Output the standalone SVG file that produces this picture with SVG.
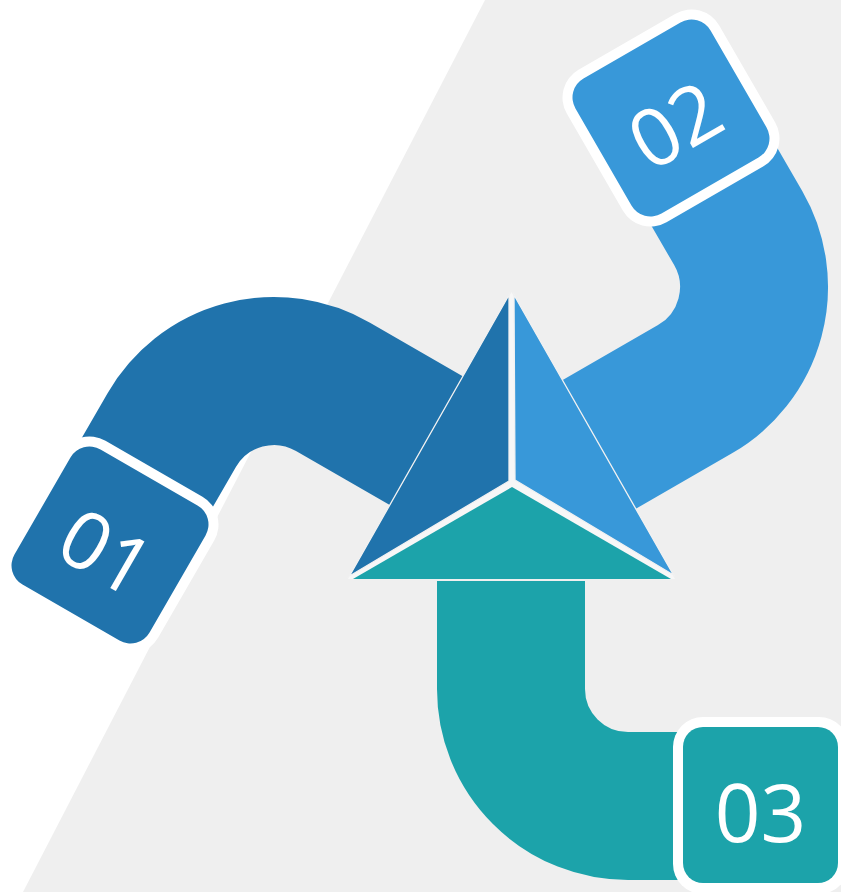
<svg xmlns="http://www.w3.org/2000/svg" width="841" height="892" viewBox="0 0 841 892">
  <defs>
    <style>
      .pipe { fill: none; stroke-width: 148; stroke-linecap: butt; stroke-linejoin: round; }
      .c1 { fill: #2073ac; }
      .c2 { fill: #3898d9; }
      .c3 { fill: #1ca3aa; }
      .s1 { stroke: #2073ac; }
      .s2 { stroke: #3898d9; }
      .s3 { stroke: #1ca3aa; }
      .edge { stroke: #f2f2f2; stroke-width: 1.3; stroke-linejoin: miter; }
      .frame { fill: #ffffff; }
      .num { font-family: "Open Sans", "Noto Sans", "Liberation Sans", sans-serif; font-size: 80px; fill: #ffffff; text-anchor: middle; }
    </style>
  </defs>
  <rect x="0" y="0" width="841" height="892" fill="#ffffff"/>
  <polygon points="485,0 841,0 841,892 23,892" fill="#efefef"/>

  <g id="connectors">
    <path class="pipe s1" d="M121.8,516.6 L171.8,430 A118,118 0 0 1 333,386.8 L437,446.8"/>
    <path class="pipe s2" d="M683,132.7 L738.2,228 A118,118 0 0 1 695,389.2 L591,449.2"/>
    <path class="pipe s3" d="M511,581 V689 A117,117 0 0 0 628,806 H690"/>
  </g>

  <g id="center-triangle">
    <polygon points="511.5,292 348,579 675,579" fill="#f7f7f7"/>
    <polygon class="c1 edge" points="509,295 349.5,576 509,481"/>
    <polygon class="c2 edge" points="514,295 673.5,575 515,480"/>
    <polygon class="c3" points="512,487 353,579 671,579"/>
  </g>

  <g id="node-01" transform="translate(110,545) rotate(30)">
    <rect class="frame" x="-88" y="-88" width="176" height="176" rx="32"/>
    <rect class="c1" x="-78" y="-78" width="156" height="156" rx="22"/>
    <text class="num" x="0" y="37">01</text>
  </g>

  <g id="node-02" transform="translate(671,118) rotate(-30)">
    <rect class="frame" x="-88" y="-88" width="176" height="176" rx="32"/>
    <rect class="c2" x="-78" y="-78" width="156" height="156" rx="22"/>
    <text class="num" x="0" y="37">02</text>
  </g>

  <g id="node-03">
    <rect class="frame" x="673" y="717" width="176" height="177" rx="30"/>
    <rect class="c3" x="683" y="727" width="155" height="156" rx="20"/>
    <text class="num" x="760.5" y="842">03</text>
  </g>
</svg>
